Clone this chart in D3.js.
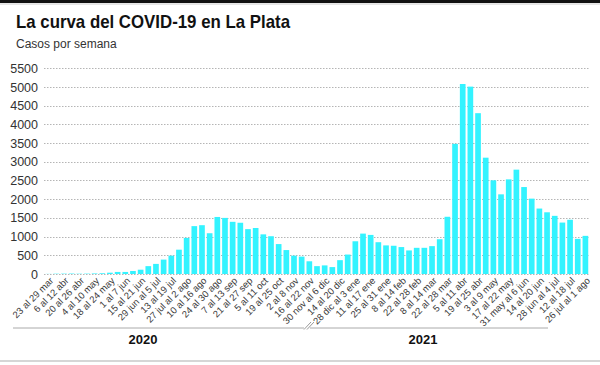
<!DOCTYPE html>
<html>
<head>
<meta charset="utf-8">
<script src="https://cdn.jsdelivr.net/npm/d3@7"></script>
<style>
  body { margin: 0; background: #fff; }
  svg { display: block; }
  text { font-family: "Liberation Sans", Arial, sans-serif; }
</style>
</head>
<body>
<svg id="chart" width="600" height="365"></svg>
<script>
const weeklyCases = [
  3, 8, 10, 12, 8, 10, 15, 20, 35, 55,
  55, 80, 115, 210, 270, 385, 490, 650, 965, 1280,
  1305, 1090, 1525, 1500, 1395, 1370, 1200, 1230, 1060, 1010,
  800, 640, 490, 465, 340, 210, 230, 185, 370, 520,
  875, 1080, 1045, 850, 765, 755, 720, 630, 700, 700,
  745, 930, 1530, 3480, 5080, 5010, 4300, 3110, 2505, 2130,
  2530, 2790, 2325, 2015, 1750, 1650, 1555, 1375, 1450, 940,
  1020
];
const weekLabels = [
  "23 al 29 mar", "6 al 12 abr", "20 al 26 abr", "4 al 10 may", "18 al 24 may",
  "1 al 7 jun", "15 al 21 jun", "29 jun al 5 jul", "13 al 19 jul", "27 jul al 2 ago",
  "10 al 16 ago", "24 al 30 ago", "7 al 13 sep", "21 al 27 sep", "5 al 11 oct",
  "19 al 25 oct", "2 al 8 nov", "16 al 22 nov", "30 nov al 6 dic", "14 al 20 dic",
  "28 dic al 3 ene", "11 al 17 ene", "25 al 31 ene", "8 al 14 feb", "22 al 28 feb",
  "8 al 14 mar", "22 al 28 mar", "5 al 11 abr", "19 al 25 abr", "3 al 9 may",
  "17 al 22 may", "31 may al 6 jun", "14 al 20 jun", "28 jun al 4 jul", "12 al 18 jul",
  "26 jul al 1 ago"
];
const yTicks = [0, 500, 1000, 1500, 2000, 2500, 3000, 3500, 4000, 4500, 5000, 5500];
const years = ["2020", "2021"];
const title = "La curva del COVID-19 en La Plata";
const subtitle = "Casos por semana";

const svg = d3.select("#chart");

// frame lines
svg.append("rect").attr("x", 0).attr("y", 0).attr("width", 600).attr("height", 3).attr("fill", "#111");
svg.append("line").attr("x1", 0).attr("x2", 600).attr("y1", 4).attr("y2", 4).attr("stroke", "#ccc");
svg.append("line").attr("x1", 0).attr("x2", 600).attr("y1", 361).attr("y2", 361).attr("stroke", "#c8c8c8").attr("stroke-width", 1.5);

svg.append("text").attr("x", 16).attr("y", 28)
  .attr("font-size", 18.5).attr("font-weight", "bold").attr("fill", "#111")
  .attr("textLength", 274).attr("lengthAdjust", "spacingAndGlyphs")
  .text(title);
svg.append("text").attr("x", 16).attr("y", 48)
  .attr("font-size", 12).attr("fill", "#333")
  .text(subtitle);

const idx = weeklyCases.map((d, i) => i);
const x = d3.scaleBand().domain(idx).range([45, 589]).paddingInner(0.26).paddingOuter(0.1);
const y = d3.scaleLinear().domain([0, 5500]).range([274, 68.3]);

// y axis labels
const yAxis = d3.axisLeft(y).tickValues(yTicks).tickFormat(d3.format("d")).tickSize(0).tickPadding(4);
const gy = svg.append("g").attr("transform", "translate(42,0)").call(yAxis);
gy.select(".domain").remove();
gy.selectAll("text").attr("font-size", 12.5).attr("fill", "#333")
  .attr("font-family", "Liberation Sans, Arial, sans-serif");

// gridlines
svg.append("g").selectAll("line").data(yTicks).join("line")
  .attr("x1", 44).attr("x2", 590)
  .attr("y1", d => Math.round(y(d)) + 0.5).attr("y2", d => Math.round(y(d)) + 0.5)
  .attr("stroke", "#b5b5b5").attr("stroke-dasharray", "1.5,1.5");

// bars
svg.append("g").selectAll("rect").data(weeklyCases).join("rect")
  .attr("x", (d, i) => x(i))
  .attr("width", x.bandwidth())
  .attr("y", d => y(d))
  .attr("height", d => y(0) - y(d))
  .attr("fill", "#33f3ff");

// x labels every other week
const xAxis = d3.axisBottom(x)
  .tickValues(idx.filter(i => i % 2 === 0))
  .tickFormat(i => weekLabels[i / 2])
  .tickSize(0).tickPadding(0);
const gx = svg.append("g").attr("transform", "translate(0,276)").call(xAxis);
gx.select(".domain").remove();
gx.selectAll("text")
  .attr("font-size", 9.5).attr("fill", "#3a3a3a")
  .attr("font-family", "Liberation Sans, Arial, sans-serif")
  .attr("text-anchor", "end")
  .attr("dy", "0.35em").attr("dx", 0)
  .attr("transform", "translate(3,3) rotate(-45)");

// year divider line with break
const lineY = 328;
svg.append("line").attr("x1", 13).attr("x2", 304).attr("y1", lineY).attr("y2", lineY).attr("stroke", "#aaa");
svg.append("line").attr("x1", 310).attr("x2", 548).attr("y1", lineY).attr("y2", lineY).attr("stroke", "#aaa");
svg.append("line").attr("x1", 304).attr("x2", 311).attr("y1", lineY + 1.5).attr("y2", lineY - 6).attr("stroke", "#999");
svg.append("line").attr("x1", 307).attr("x2", 314).attr("y1", lineY + 1.5).attr("y2", lineY - 6).attr("stroke", "#999");

svg.append("g").selectAll("text").data(years).join("text")
  .attr("x", (d, i) => i === 0 ? 143 : 423)
  .attr("y", 344)
  .attr("text-anchor", "middle")
  .attr("font-size", 13).attr("font-weight", "bold").attr("fill", "#111")
  .text(d => d);
</script>
</body>
</html>
